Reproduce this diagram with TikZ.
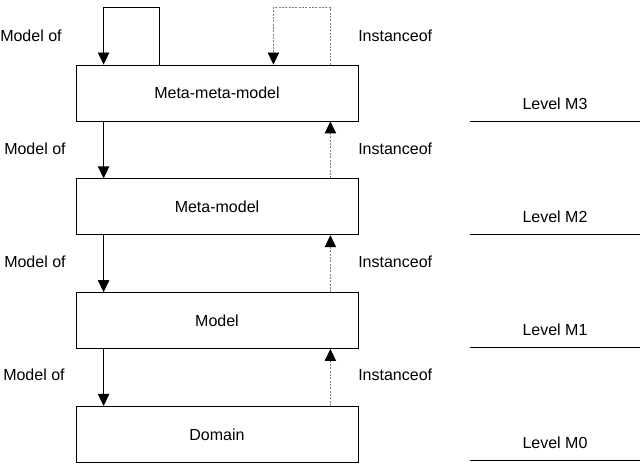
\documentclass[tikz,border=0pt]{standalone}
\usepackage{fontspec}
\setmainfont{Liberation Sans}
\usetikzlibrary{positioning,arrows.meta}

\begin{document}
\begin{tikzpicture}[
			x=0.75pt, y=-0.75pt,
			node distance=42.75pt,
			level/.style={
					draw,
					line width=0.6pt,
					minimum width=211.5pt,
					minimum height=42pt,
					font=\fontsize{12}{14}\selectfont
				},
			tag/.style={
					inner sep=0pt,
					font=\fontsize{12}{14}\selectfont
				},
			modelof/.style={-{Triangle[length=9pt,width=8.5pt]}, line width=0.6pt},
			instof/.style={-{Triangle[length=9pt,width=8.5pt,color=black]},
					gray, line width=0.6pt, dash pattern=on 1.5pt off 1pt}
		]

		\useasboundingbox (0,0) rectangle (643,466);

		\node[level] (mmm) at (217,93) {Meta-meta-model};
		\node[level, below=of mmm] (mm) {Meta-model};
		\node[level, below=of mm] (model) {Model};
		\node[level, below=of model] (domain) {Domain};

		% labels on the left and right of the arrows
		\node[tag, anchor=west] (mof3) at (0,36) {Model of};
		\node[tag, anchor=west] (mof2) at (4,149) {Model of};
		\node[tag, anchor=west] (mof1) at (4,262) {Model of};
		\node[tag, anchor=west] (mof0) at (3,375) {Model of};
		\node[tag, anchor=west] (inst3) at (358,36) {Instanceof};
		\node[tag, anchor=west] (inst2) at (358,149) {Instanceof};
		\node[tag, anchor=west] (inst1) at (358,262) {Instanceof};
		\node[tag, anchor=west] (inst0) at (358,375) {Instanceof};

		% levels
		\node[tag] (lvl3) at (555,104) {Level M3};
		\node[tag] (lvl2) at (555,217) {Level M2};
		\node[tag] (lvl1) at (555,330) {Level M1};
		\node[tag] (lvl0) at (555,443) {Level M0};
		\draw[line width=0.6pt] (470,121) -- (640,121);
		\draw[line width=0.6pt] (470,234) -- (640,234);
		\draw[line width=0.6pt] (470,347) -- (640,347);
		\draw[line width=0.6pt] (470,460) -- (640,460);

		% self loops
		\draw[modelof] ([xshift=63pt]mmm.north west) -- ++(0,-57)
		-| ([xshift=21pt]mmm.north west);
		\draw[instof] ([xshift=-21pt]mmm.north east) -- ++(0,-57)
		-| ([xshift=-63.75pt]mmm.north east);

		\draw[modelof] ([xshift=21pt]mmm.south west) -- ([xshift=21pt]mm.north west);
		\draw[modelof] ([xshift=21pt]mm.south west) -- ([xshift=21pt]model.north west);
		\draw[modelof] ([xshift=21pt]model.south west) -- ([xshift=21pt]domain.north west);

		\draw[instof] ([xshift=-21pt]mm.north east) -- ([xshift=-21pt]mmm.south east);
		\draw[instof] ([xshift=-21pt]model.north east) -- ([xshift=-21pt]mm.south east);
		\draw[instof] ([xshift=-21pt]domain.north east) -- ([xshift=-21pt]model.south east);

	\end{tikzpicture}
\end{document}
